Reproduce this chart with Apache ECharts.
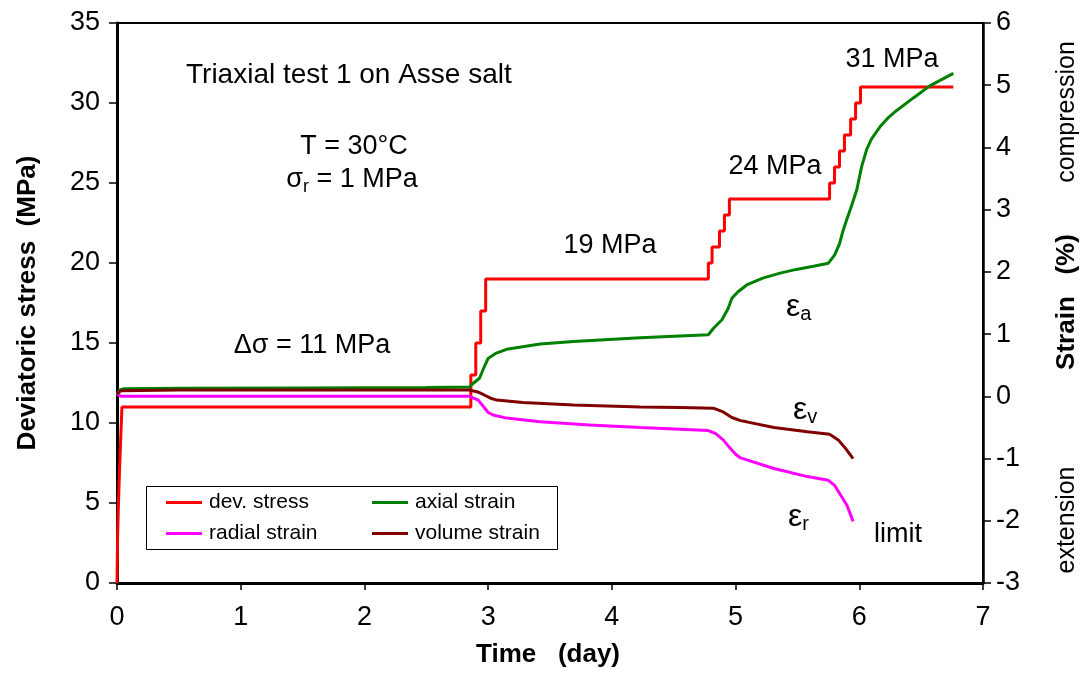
<!DOCTYPE html>
<html>
<head>
<meta charset="utf-8">
<script src="https://cdn.jsdelivr.net/npm/echarts@6/dist/echarts.min.js"></script>
<style>
  html, body { margin: 0; padding: 0; background: #fff; }
  #chart { width: 1085px; height: 673px; }
</style>
</head>
<body>
<div id="chart"></div>
<script>
// Deviatoric stress (MPa), stepwise loading history
const stressTime  = [0, 0.005, 0.012, 0.02, 0.03, 0.04, 2.86, 2.90, 2.94, 2.98, 4.78, 4.81, 4.87, 4.91, 4.95, 5.76, 5.80, 5.84, 5.88, 5.93, 5.97, 6.01, 6.76];
const stressValue = [0, 3, 5, 7, 9, 11, 13, 15, 17, 19, 20, 21, 22, 23, 24, 25, 26, 27, 28, 29, 30, 31, 31];

// Axial strain (%)
const axialTime  = [0, 0.02, 0.05, 0.5, 1.5, 2.5, 2.85, 2.88, 2.93, 2.97, 3.00, 3.06, 3.15, 3.42, 3.69, 4.23, 4.55, 4.78, 4.82, 4.89, 4.94, 4.97, 5.02, 5.09, 5.22, 5.36, 5.49, 5.63, 5.75, 5.80, 5.84, 5.87, 5.90, 5.93, 5.98, 6.02, 6.06, 6.10, 6.17, 6.23, 6.30, 6.44, 6.57, 6.76];
const axialValue = [0.02, 0.10, 0.12, 0.13, 0.135, 0.14, 0.15, 0.21, 0.29, 0.48, 0.61, 0.69, 0.755, 0.84, 0.88, 0.94, 0.97, 0.99, 1.09, 1.23, 1.41, 1.575, 1.68, 1.79, 1.90, 1.98, 2.04, 2.09, 2.14, 2.27, 2.45, 2.67, 2.85, 3.02, 3.32, 3.70, 3.97, 4.14, 4.34, 4.47, 4.59, 4.80, 4.99, 5.19];

// Radial strain (%)
const radialTime  = [0, 0.03, 2.85, 2.92, 2.96, 3.00, 3.04, 3.15, 3.42, 3.82, 4.23, 4.78, 4.84, 4.90, 4.95, 5.00, 5.04, 5.31, 5.58, 5.75, 5.80, 5.85, 5.90, 5.95];
const radialValue = [0.04, 0.0, 0.0, -0.06, -0.16, -0.26, -0.30, -0.35, -0.41, -0.46, -0.50, -0.55, -0.60, -0.70, -0.82, -0.93, -0.99, -1.16, -1.29, -1.35, -1.43, -1.59, -1.75, -2.01];

// Volume strain (%)
const volumeTime  = [0, 0.03, 0.5, 2.85, 2.91, 2.96, 3.02, 3.07, 3.28, 3.69, 4.23, 4.55, 4.82, 4.90, 4.97, 5.04, 5.09, 5.31, 5.58, 5.76, 5.83, 5.89, 5.95];
const volumeValue = [0.04, 0.09, 0.10, 0.10, 0.075, 0.03, -0.03, -0.06, -0.10, -0.14, -0.17, -0.18, -0.19, -0.25, -0.34, -0.39, -0.41, -0.50, -0.57, -0.61, -0.70, -0.84, -1.0];

const seriesNames = ['dev. stress', 'axial strain', 'radial strain', 'volume strain'];
const seriesColors = ['#ff0000', '#008000', '#ff00ff', '#800000'];

const pairs = (t, v) => t.map((x, i) => [x, v[i]]);

const FONT = 'Liberation Sans, Arial, sans-serif';
const chart = echarts.init(document.getElementById('chart'), null, { renderer: 'canvas' });

const lineSeries = (idx, data, yAxisIndex, extra) => Object.assign({
  name: seriesNames[idx],
  type: 'line',
  yAxisIndex: yAxisIndex,
  data: data,
  showSymbol: false,
  symbol: 'none',
  smooth: false,
  animation: false,
  lineStyle: { color: seriesColors[idx], width: 3 },
  itemStyle: { color: seriesColors[idx] },
  z: 3
}, extra || {});

const legendAt = (name, left, top) => ({
  data: [name],
  left: left,
  top: top,
  z: 10,
  icon: 'rect',
  itemWidth: 36,
  itemHeight: 3,
  itemGap: 0,
  padding: 0,
  selectedMode: false,
  textStyle: { fontFamily: FONT, fontSize: 21, color: '#000', padding: [0, 0, 0, 2] }
});

const annot = (text, x, y, opts) => ({
  type: 'text',
  x: x,
  y: y,
  z: 20,
  style: Object.assign({
    text: text,
    fontFamily: FONT,
    fontSize: 27,
    fill: '#000',
    textAlign: 'left',
    textVerticalAlign: 'middle'
  }, opts || {})
});

const epsRich = {
  e: { fontFamily: FONT, fontSize: 32, fill: '#000' },
  s: { fontFamily: FONT, fontSize: 20, fill: '#000', verticalAlign: 'bottom', padding: [14, 0, 0, 0] }
};

const tickFont = { fontFamily: FONT, fontSize: 27, color: '#000' };

chart.setOption({
  backgroundColor: '#fff',
  animation: false,
  grid: {
    left: 117, right: 102, top: 23, bottom: 90,
    show: true, borderColor: '#000', borderWidth: 2, backgroundColor: 'transparent'
  },
  legend: [
    legendAt(seriesNames[0], 166, 492),
    legendAt(seriesNames[1], 372, 492),
    legendAt(seriesNames[2], 166, 523),
    legendAt(seriesNames[3], 372, 523)
  ],
  xAxis: {
    type: 'value', min: 0, max: 7, interval: 1,
    axisLine: { show: true, onZero: false, lineStyle: { color: '#000', width: 3 } },
    axisTick: { show: true, inside: false, length: 7, lineStyle: { color: '#000', width: 1.5 } },
    axisLabel: Object.assign({ margin: 21 }, tickFont),
    splitLine: { show: false }
  },
  yAxis: [
    {
      type: 'value', min: 0, max: 35, interval: 5, position: 'left',
      axisLine: { show: true, onZero: false, lineStyle: { color: '#000', width: 3 } },
      axisTick: { show: true, inside: false, length: 8, lineStyle: { color: '#000', width: 1.5 } },
      axisLabel: Object.assign({ margin: 17 }, tickFont),
      splitLine: { show: false }
    },
    {
      type: 'value', min: -3, max: 6, interval: 1, position: 'right',
      axisLine: { show: true, onZero: false, lineStyle: { color: '#000', width: 2.5 } },
      axisTick: { show: true, inside: false, length: 8, lineStyle: { color: '#000', width: 1.5 } },
      axisLabel: Object.assign({ margin: 13 }, tickFont),
      splitLine: { show: false }
    }
  ],
  series: [
    lineSeries(0, pairs(stressTime, stressValue), 0, { step: 'end' }),
    lineSeries(1, pairs(axialTime, axialValue), 1),
    lineSeries(2, pairs(radialTime, radialValue), 1),
    lineSeries(3, pairs(volumeTime, volumeValue), 1)
  ],
  graphic: [
    // legend frame
    { type: 'rect', z: 1, shape: { x: 146.5, y: 486.5, width: 411, height: 63 },
      style: { fill: 'transparent', stroke: '#000', lineWidth: 1 } },

    // axis titles
    { type: 'text', x: 28, y: 303, rotation: Math.PI / 2, z: 20,
      style: { text: 'Deviatoric stress  (MPa)', fontFamily: FONT, fontWeight: 'bold', fontSize: 26,
               fill: '#000', textAlign: 'center', textVerticalAlign: 'middle' } },
    { type: 'text', x: 548, y: 655, z: 20,
      style: { text: 'Time   (day)', fontFamily: FONT, fontWeight: 'bold', fontSize: 26,
               fill: '#000', textAlign: 'center', textVerticalAlign: 'middle' } },
    { type: 'text', x: 1067, y: 302, rotation: Math.PI / 2, z: 20,
      style: { text: 'Strain   (%)', fontFamily: FONT, fontWeight: 'bold', fontSize: 26,
               fill: '#000', textAlign: 'center', textVerticalAlign: 'middle' } },
    { type: 'text', x: 1067, y: 112, rotation: Math.PI / 2, z: 20,
      style: { text: 'compression', fontFamily: FONT, fontSize: 25,
               fill: '#000', textAlign: 'center', textVerticalAlign: 'middle' } },
    { type: 'text', x: 1067, y: 520, rotation: Math.PI / 2, z: 20,
      style: { text: 'extension', fontFamily: FONT, fontSize: 25,
               fill: '#000', textAlign: 'center', textVerticalAlign: 'middle' } },

    // annotations
    annot('Triaxial test 1 on Asse salt', 186, 75, { fontSize: 28 }),
    annot('T = 30°C', 354, 147, { textAlign: 'center' }),
    { type: 'text', x: 352, y: 180, z: 20,
      style: { text: '{g|σ}{s|r}{g| = 1 MPa}', textAlign: 'center', textVerticalAlign: 'middle',
               rich: {
                 g: { fontFamily: FONT, fontSize: 27, fill: '#000' },
                 s: { fontFamily: FONT, fontSize: 18, fill: '#000', verticalAlign: 'bottom', padding: [14, 0, 0, 0] }
               } } },
    annot('Δσ = 11 MPa', 312, 346, { textAlign: 'center' }),
    annot('19 MPa', 610, 246, { textAlign: 'center' }),
    annot('24 MPa', 775, 167, { textAlign: 'center' }),
    annot('31 MPa', 892, 60, { textAlign: 'center' }),
    annot('limit', 898, 535, { textAlign: 'center' }),
    { type: 'text', x: 786, y: 307, z: 20,
      style: { text: '{e|ε}{s|a}', textVerticalAlign: 'middle', rich: epsRich } },
    { type: 'text', x: 793, y: 410, z: 20,
      style: { text: '{e|ε}{s|v}', textVerticalAlign: 'middle', rich: epsRich } },
    { type: 'text', x: 788, y: 517, z: 20,
      style: { text: '{e|ε}{s|r}', textVerticalAlign: 'middle', rich: epsRich } }
  ]
});
</script>
</body>
</html>
